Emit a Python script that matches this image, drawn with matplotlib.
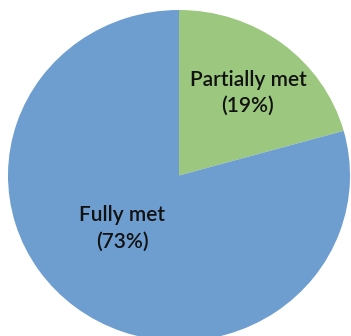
import matplotlib
matplotlib.use("Agg")
import matplotlib.pyplot as plt

labels = ["Partially met", "Fully met"]
shares = [19, 73]
colors = ["#9BC87E", "#6E9ECF"]

W, H = 351, 336
cx, cy = 179, 175.5      # pie centre in pixels (from top-left)
rx, ry = 171, 165.5      # slightly squashed pie

fig = plt.figure(figsize=(W / 100, H / 100), dpi=100)
ax = fig.add_axes([0, 0, 1, 1])
ax.pie(shares, colors=colors, startangle=90, counterclock=False,
       radius=1, center=(0, 0), wedgeprops=dict(linewidth=0))
ax.set_aspect("auto")
ax.set_xlim(-cx / rx, (W - cx) / rx)
ax.set_ylim(-(H - cy) / ry, cy / ry)
ax.axis("off")

font = dict(family=["Lato", "DejaVu Sans"], fontsize=15, fontweight="semibold",
            ha="center", va="center", color="#111111", linespacing=1.4)
label_pos = [(248, 93), (122, 228.5)]
for lbl, val, (px, py) in zip(labels, shares, label_pos):
    ax.text((px - cx) / rx, (cy - py) / ry, f"{lbl}\n({val}%)", **font)

fig.savefig("out.png", dpi=100)
plt.close(fig)
